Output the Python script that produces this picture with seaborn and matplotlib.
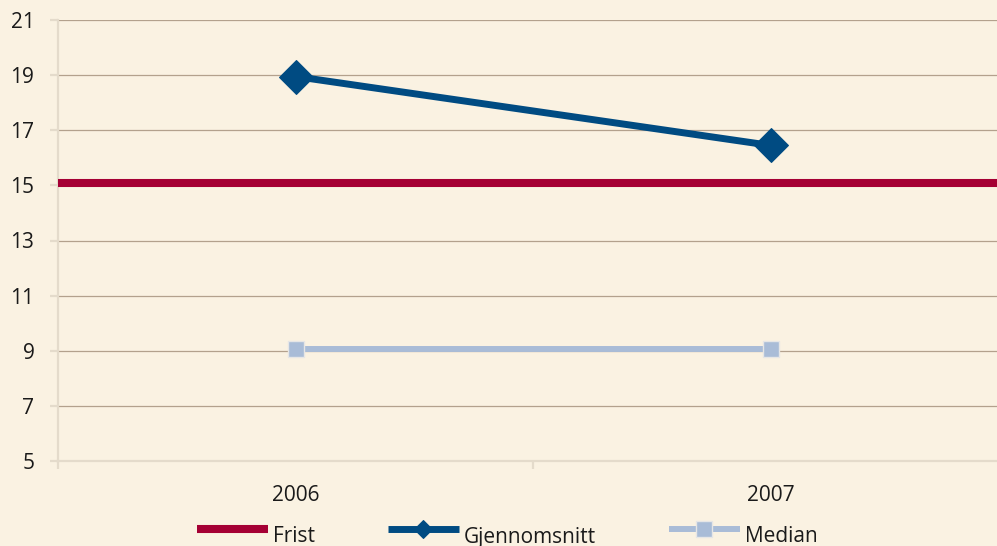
import numpy as np
import pandas as pd
import matplotlib
matplotlib.use("Agg")
import matplotlib.pyplot as plt
import matplotlib.transforms as mtransforms
import seaborn as sns

# Data
years = ["2006", "2007"]
frist = [15.1, 15.1]
gjennomsnitt = [18.95, 16.45]
median = [9.05, 9.05]
y_ticks = [5, 7, 9, 11, 13, 15, 17, 19, 21]

BG = "#FAF2E2"
GRID = "#B3A18D"
SPINE = "#E4DBCB"
TEXT = "#1A1A1A"
C_FRIST = "#A50034"
C_SNITT = "#004B82"
C_MEDIAN = "#A9BCD7"

sns.set_theme(style="white")
plt.rcParams["font.family"] = ["Open Sans", "DejaVu Sans"]

df = pd.DataFrame({
    "year": years * 2,
    "value": gjennomsnitt + median,
    "series": ["Gjennomsnitt"] * 2 + ["Median"] * 2,
})

fig = plt.figure(figsize=(9.97, 5.46), dpi=100, facecolor=BG)
ax = fig.add_axes([58 / 997, 85 / 546, 950 / 997, 441 / 546])
ax.set_facecolor(BG)

# Frist (deadline) line across the whole plot
ax.axhline(frist[0], color=C_FRIST, linewidth=5.8, zorder=3, label="Frist",
           solid_capstyle="butt")

sns.lineplot(
    data=df[df["series"] == "Gjennomsnitt"], x="year", y="value", ax=ax,
    color=C_SNITT, linewidth=5, marker="D", markersize=17,
    markeredgecolor=C_SNITT, label="Gjennomsnitt", zorder=4,
)
sns.lineplot(
    data=df[df["series"] == "Median"], x="year", y="value", ax=ax,
    color=C_MEDIAN, linewidth=4.3, marker="s", markersize=12,
    markeredgecolor="#E6E6E6", markeredgewidth=1, label="Median", zorder=4,
)

ax.set_xlim(-0.5, 1.5)
ax.set_ylim(5, 21)
ax.set_yticks(y_ticks)
ax.set_xticks([0, 1])
ax.set_xticklabels(years)
ax.set_xticks([-0.5, 0.5, 1.5], minor=True)
ax.set_xlabel("")
ax.set_ylabel("")

ax.yaxis.grid(True, color=GRID, linewidth=0.9, zorder=1)
ax.xaxis.grid(False)
ax.set_axisbelow(True)

for side in ["top", "right"]:
    ax.spines[side].set_visible(False)
for side in ["left", "bottom"]:
    ax.spines[side].set_color(SPINE)
    ax.spines[side].set_linewidth(1.6)
    ax.spines[side].set_zorder(2)

ax.tick_params(axis="y", which="major", length=6, width=1.6, color=SPINE,
               direction="out", pad=11, labelsize=15, labelcolor=TEXT, left=True)
ax.tick_params(axis="x", which="major", length=0, pad=17, labelsize=15, labelcolor=TEXT)
ax.tick_params(axis="x", which="minor", length=6, width=1.6, color=SPINE,
               direction="out", bottom=True)

handles, labels = ax.get_legend_handles_labels()
leg = ax.legend(
    handles, labels, loc="center left", bbox_to_anchor=(197 / 997, 15.5 / 546),
    bbox_transform=fig.transFigure, ncol=3, frameon=False,
    fontsize=15, handlelength=3.4, handletextpad=0.25, columnspacing=3.5,
    borderpad=0, borderaxespad=0,
)
for line in leg.get_lines():
    line.set_solid_capstyle("butt")
leg.get_lines()[1].set_markersize(9)
# legend text sits a little lower than the handle in the reference
shift = mtransforms.Affine2D().translate(0, -6.5)
for t in leg.get_texts():
    t.set_color(TEXT)
    t.set_transform(t.get_transform() + shift)

fig.savefig("out.png", dpi=100, facecolor=BG)
